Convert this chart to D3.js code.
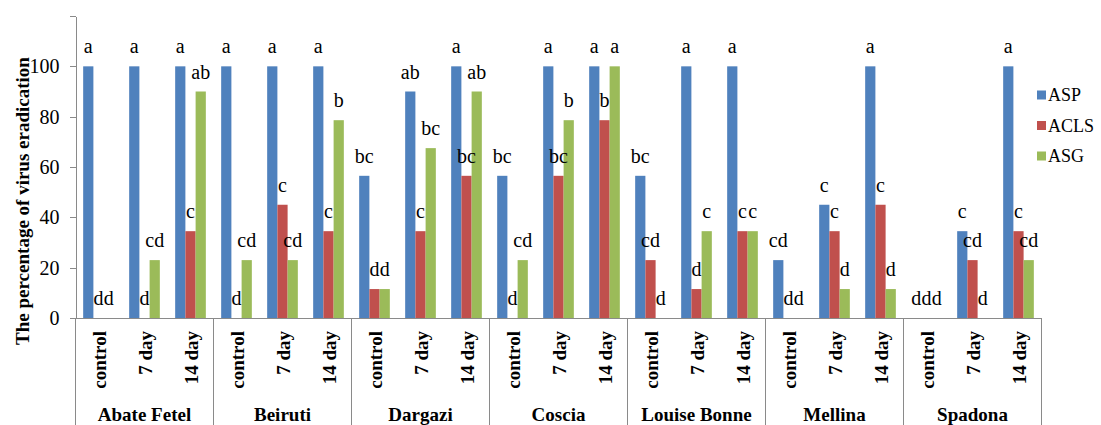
<!DOCTYPE html>
<html>
<head>
<meta charset="utf-8">
<script src="https://cdn.jsdelivr.net/npm/d3@7"></script>
<style>
  body { margin: 0; background: #fff; }
  svg { display: block; }
  svg text { font-family: "Liberation Serif", "Times New Roman", "DejaVu Serif", serif !important; fill: #000; }
</style>
</head>
<body>
<svg id="chart" width="1101" height="425"></svg>
<script>
// Cultivars (outer groups) and treatments (inner categories)
const cultivars = ["Abate Fetel", "Beiruti", "Dargazi", "Coscia", "Louise Bonne", "Mellina", "Spadona"];
const treatments = ["control", "7 day", "14 day"];

// Series
const seriesNames = ["ASP", "ACLS", "ASG"];
const seriesColors = ["#4F81BD", "#C0504D", "#9BBB59"];

// Virus eradication (%) per cultivar x treatment, in cultivar order
const aspValues  = [100, 100, 100,   100, 100, 100,   56.5, 90, 100,   56.5, 100, 100,   56.5, 100, 100,   23, 45, 100,   0, 34.5, 100];
const aclsValues = [0, 0, 34.5,      0, 45, 34.5,     11.5, 34.5, 56.5, 0, 56.5, 78.6,   23, 11.5, 34.5,   0, 34.5, 45,   0, 23, 34.5];
const asgValues  = [0, 23, 90,       23, 23, 78.6,    11.5, 67.5, 90,  23, 78.6, 100,    0, 34.5, 34.5,    0, 11.5, 11.5, 0, 0, 23];

// Mean separation letters
const aspLetters  = ["a", "a", "a",   "a", "a", "a",    "bc", "ab", "a",  "bc", "a", "a",   "bc", "a", "a",  "cd", "c", "a",  "d", "c", "a"];
const aclsLetters = ["d", "d", "c",   "d", "c", "c",    "d", "c", "bc",   "d", "bc", "b",   "cd", "d", "c",  "d", "c", "c",   "d", "cd", "c"];
const asgLetters  = ["d", "cd", "ab", "cd", "cd", "b",  "d", "bc", "ab",  "cd", "b", "a",   "d", "c", "c",   "d", "d", "d",   "d", "d", "cd"];

// Value axis
const yTicks = [0, 20, 40, 60, 80, 100, 120];
const yTickLabels = ["0", "20", "40", "60", "80", "100", ""];
const yTitle = "The percentage of virus eradication";

const serif = "'Liberation Serif', 'Times New Roman', 'DejaVu Serif', serif";
const svg = d3.select("#chart").attr("font-family", serif);
const plot = { left: 75.5, right: 1041.5, top: 16, bottom: 318 };

const valuesBySeries = [aspValues, aclsValues, asgValues];
const lettersBySeries = [aspLetters, aclsLetters, asgLetters];

const categories = [];
cultivars.forEach((c, gi) => treatments.forEach((t, ti) => categories.push({ id: gi * 3 + ti, cultivar: c, treatment: t })));

const x0 = d3.scaleBand().domain(categories.map(d => d.id)).range([plot.left, plot.right]).paddingInner(0).paddingOuter(0);
const x1 = d3.scaleBand().domain(seriesNames).range([0, x0.bandwidth()]).paddingInner(0).paddingOuter(0.75);
const y = d3.scaleLinear().domain([0, 120]).range([plot.bottom, plot.top]);
const groupX = d3.scaleBand().domain(cultivars).range([plot.left, plot.right]).padding(0);

// Bars
seriesNames.forEach((s, si) => {
  svg.append("g")
    .selectAll("rect")
    .data(categories)
    .join("rect")
    .attr("x", d => x0(d.id) + x1(s))
    .attr("y", d => y(valuesBySeries[si][d.id]))
    .attr("width", x1.bandwidth())
    .attr("height", d => y(0) - y(valuesBySeries[si][d.id]))
    .attr("fill", seriesColors[si]);
});

// Letters above bars
seriesNames.forEach((s, si) => {
  svg.append("g")
    .selectAll("text")
    .data(categories)
    .join("text")
    .attr("x", d => x0(d.id) + x1(s) + x1.bandwidth() / 2)
    .attr("y", d => y(valuesBySeries[si][d.id]) - 13)
    .attr("text-anchor", "middle")
    .style("font-family", serif)
    .style("font-size", "20px")
    .text(d => lettersBySeries[si][d.id]);
});

// Y axis
const yAxis = d3.axisLeft(y)
  .tickValues(yTicks)
  .tickFormat((d, i) => yTickLabels[i])
  .tickSize(6)
  .tickSizeOuter(0)
  .tickPadding(10);
const gy = svg.append("g").attr("transform", `translate(${plot.left},0)`).call(yAxis).attr("font-family", serif);
gy.selectAll("path, line").attr("stroke", "#8a8a8a").attr("shape-rendering", "crispEdges");
gy.selectAll("text").style("font-size", "20px").style("font-family", serif).attr("fill", "#000");

// Category axis line and group separators
svg.append("line")
  .attr("x1", plot.left).attr("x2", plot.right)
  .attr("y1", y(0) + 0.5).attr("y2", y(0) + 0.5)
  .attr("stroke", "#8a8a8a").attr("shape-rendering", "crispEdges");

const seps = cultivars.map(c => groupX(c)).concat([plot.right]);
svg.append("g")
  .selectAll("line")
  .data(seps)
  .join("line")
  .attr("x1", d => d).attr("x2", d => d)
  .attr("y1", y(0)).attr("y2", 430)
  .attr("stroke", "#8a8a8a").attr("shape-rendering", "crispEdges");

// Treatment labels (rotated)
svg.append("g")
  .selectAll("text")
  .data(categories)
  .join("text")
  .attr("transform", d => `translate(${x0(d.id) + x0.bandwidth() / 2 + 7},331) rotate(-90)`)
  .attr("text-anchor", "end")
  .style("font-family", serif)
  .style("font-size", "19px")
  .style("font-weight", "bold")
  .text(d => d.treatment);

// Cultivar labels
svg.append("g")
  .selectAll("text")
  .data(cultivars)
  .join("text")
  .attr("x", d => groupX(d) + groupX.bandwidth() / 2)
  .attr("y", 421)
  .attr("text-anchor", "middle")
  .style("font-family", serif)
  .style("font-size", "19px")
  .style("font-weight", "bold")
  .text(d => d);

// Y axis title
svg.append("text")
  .attr("transform", "translate(28.5,201) rotate(-90)")
  .attr("text-anchor", "middle")
  .style("font-family", serif)
  .style("font-size", "19px")
  .style("font-weight", "bold")
  .text(yTitle);

// Legend
const legend = svg.append("g").attr("transform", "translate(1037,95)");
seriesNames.forEach((s, i) => {
  const row = legend.append("g").attr("transform", `translate(0,${i * 30.5})`);
  row.append("rect").attr("x", 0).attr("y", -4.5).attr("width", 9).attr("height", 9).attr("fill", seriesColors[i]);
  row.append("text").attr("x", 11).attr("y", 0).attr("dy", "0.35em")
    .style("font-family", serif).style("font-size", "18px").text(s);
});
</script>
</body>
</html>
